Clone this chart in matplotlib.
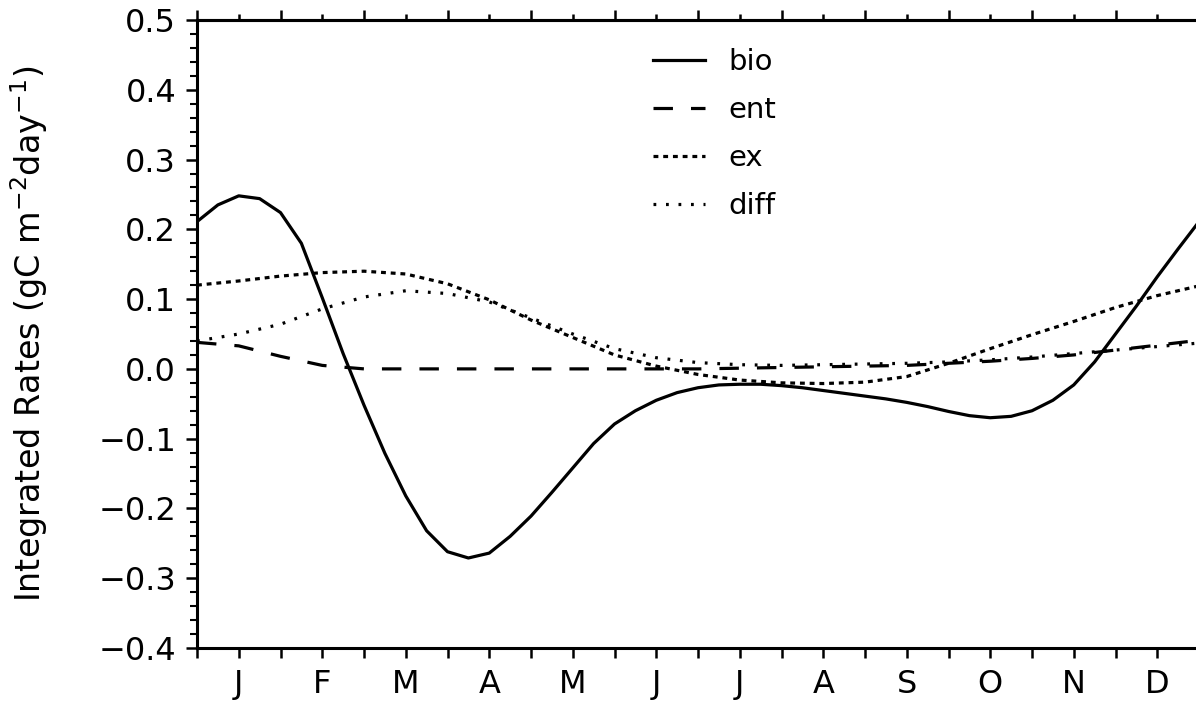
#!/usr/bin/env python
#-*- coding: utf-8 -*-

import numpy as np
import matplotlib
matplotlib.use('Agg')
import matplotlib.pyplot as plt
from matplotlib.ticker import MultipleLocator, FixedLocator, NullFormatter

# month axis: 0 = start of Jan, 12 = end of Dec
months = ['J', 'F', 'M', 'A', 'M', 'J', 'J', 'A', 'S', 'O', 'N', 'D']

# bio, read every quarter month
t_bio = np.arange(0, 12.01, 0.25)
bio = [0.211, 0.235, 0.248, 0.244, 0.224, 0.180, 0.102, 0.022,
       -0.052, -0.121, -0.182, -0.232, -0.262, -0.271, -0.264, -0.240,
       -0.211, -0.177, -0.142, -0.107, -0.079, -0.060, -0.045, -0.034,
       -0.027, -0.023, -0.022, -0.022, -0.024, -0.027, -0.031, -0.035,
       -0.039, -0.043, -0.048, -0.054, -0.061, -0.067, -0.070, -0.068,
       -0.060, -0.045, -0.023, 0.010, 0.050, 0.090, 0.132, 0.172, 0.211]

# other terms, read every half month
t_half = np.arange(0, 12.01, 0.5)
ent = [0.038, 0.033, 0.018, 0.005, 0.000, 0.000, 0.000, 0.000, 0.000,
       0.000, 0.000, 0.000, 0.000, 0.001, 0.002, 0.003, 0.004, 0.005,
       0.008, 0.011, 0.015, 0.020, 0.027, 0.034, 0.041]
ex = [0.120, 0.126, 0.133, 0.138, 0.140, 0.136, 0.122, 0.099, 0.070,
      0.045, 0.020, 0.004, -0.008, -0.016, -0.020, -0.021, -0.019, -0.011,
      0.008, 0.029, 0.049, 0.068, 0.088, 0.105, 0.119]
diff = [0.040, 0.050, 0.064, 0.086, 0.103, 0.112, 0.108, 0.096, 0.073,
        0.050, 0.029, 0.016, 0.009, 0.006, 0.005, 0.006, 0.007, 0.008,
        0.010, 0.013, 0.017, 0.022, 0.027, 0.032, 0.037]

plt.rcParams['font.family'] = ['DejaVu Sans']
plt.rcParams['mathtext.fontset'] = 'dejavusans'
plt.rcParams['lines.scale_dashes'] = False

W, H = 1196, 702
fig = plt.figure(figsize=(W / 100., H / 100.), dpi=100)
ax = fig.add_axes([197. / W, 1 - 648. / H, 1002. / W, 628. / H])

lw = 2.3
ax.plot(t_bio, bio, color='black', lw=lw, solid_joinstyle='round', label='bio')
ax.plot(t_half, ent, color='black', lw=lw, dashes=(14, 13), dash_capstyle='butt',
        label='ent')
ax.plot(t_half, ex, color='black', lw=lw, dashes=(3.5, 3.5), dash_capstyle='butt',
        label='ex')
ax.plot(t_half, diff, color='black', lw=lw, dashes=(2, 7), dash_capstyle='butt',
        label='diff')

ax.set_xlim(0, 12)
ax.set_ylim(-0.4, 0.5)

# y ticks
yt = np.arange(-0.4, 0.51, 0.1)
ax.set_yticks(yt)
ax.set_yticklabels([('%.1f' % v).replace('-', '\u2212') if abs(v) > 1e-9 else '0.0'
                    for v in yt])
ax.yaxis.set_minor_locator(MultipleLocator(0.02))
ax.tick_params(axis='y', which='major', direction='out', length=8, width=1.8,
               labelsize=23, pad=7)
ax.tick_params(axis='y', which='minor', direction='out', length=5, width=1.5)

# x ticks: month boundaries and mid-month labels
ax.xaxis.set_major_locator(FixedLocator(np.arange(0, 13, 1)))
ax.xaxis.set_minor_locator(FixedLocator(np.arange(0.5, 12, 1)))
ax.xaxis.set_major_formatter(NullFormatter())
ax.xaxis.set_minor_formatter(plt.FixedFormatter(months))
ax.tick_params(axis='x', which='both', direction='out', length=7, width=1.8,
               labelsize=23, pad=8)

top = ax.secondary_xaxis('top')
top.xaxis.set_major_locator(FixedLocator(np.arange(0, 13, 1)))
top.xaxis.set_minor_locator(FixedLocator(np.arange(0.5, 12, 1)))
top.xaxis.set_major_formatter(NullFormatter())
top.xaxis.set_minor_formatter(NullFormatter())
top.tick_params(which='major', direction='out', length=7, width=1.8)
top.tick_params(which='minor', direction='out', length=4, width=1.8)
top.spines['top'].set_linewidth(2.2)

for s in ['left', 'bottom', 'top']:
    ax.spines[s].set_linewidth(2.2)
ax.spines['right'].set_visible(False)

ax.set_ylabel(r'Integrated Rates (gC m$^{-2}$day$^{-1}$)', fontsize=24)
ax.yaxis.set_label_coords(-0.147, 0.5)

leg = ax.legend(loc='upper left', bbox_to_anchor=(0.455, 0.955), frameon=False,
                fontsize=21, handlelength=1.8, handletextpad=0.8,
                labelspacing=0.68, borderpad=0, borderaxespad=0)

fig.savefig('out.png', dpi=100)
